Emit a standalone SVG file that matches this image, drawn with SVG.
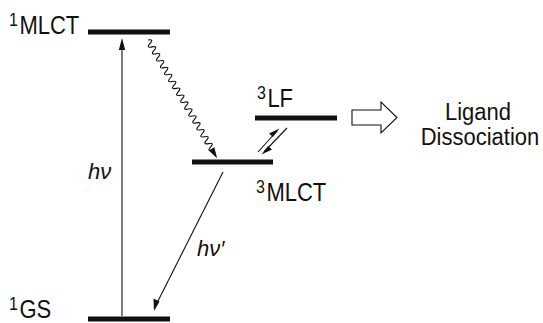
<svg xmlns="http://www.w3.org/2000/svg" width="543" height="323" viewBox="0 0 543 323">
<style>
.bar{stroke:#111;stroke-width:5;fill:none}
.ln{stroke:#111;stroke-width:1.1;fill:none}
.hd{fill:#111;stroke:none}
.lb{font-family:"Liberation Sans",Arial,sans-serif;font-size:22px;fill:#111}
.sp{font-size:16px}
.it{font-family:"Liberation Sans",Arial,sans-serif;font-size:22px;font-style:italic;fill:#111}
</style>
<rect width="543" height="323" fill="#fff"/>
<g id="connectors">
  <g id="hv-abs">
    <line class="ln" x1="122" y1="316" x2="122" y2="48"/>
    <polygon class="hd" points="122,38 125.2,50 118.8,50"/>
  </g>
  <g id="wavy" transform="translate(148,40) rotate(59.7)">
    <path class="ln" d="M0,0 q2,-6 4,0 t4,0 t4,0 t4,0 t4,0 t4,0 t4,0 t4,0 t4,0 t4,0 t4,0 t4,0 t4,0 t4,0 t4,0 t4,0 t4,0 t4,0 t4,0 t4,0 t4,0 t4,0 t4,0 t4,0 t4,0 t4,0 t4,0 t4,0 t4,0 t4,0 t4,0 t4,0 l6,0"/>
    <polygon class="hd" points="137,0 126,-3.2 126,3.2"/>
  </g>
  <g id="equil">
    <line class="ln" x1="258" y1="152" x2="277" y2="131"/>
    <polygon class="hd" points="279.5,128.5 269,133.5 273,137"/>
    <line class="ln" x1="287" y1="128" x2="264" y2="152"/>
    <polygon class="hd" points="261.5,154.5 272,149.5 268,146"/>
  </g>
  <g id="hv-em">
    <line class="ln" x1="223" y1="172" x2="157" y2="303"/>
    <polygon class="hd" points="154,311 153.5,298.5 159.5,301.5"/>
  </g>
  <g id="block-arrow">
    <polygon points="352,110 381,110 381,102 397,117.5 381,133 381,125 352,125" fill="#fff" stroke="#111" stroke-width="1.1"/>
  </g>
</g>
<g id="mlct1">
  <line class="bar" x1="88" y1="32" x2="170" y2="32"/>
  <text class="lb" transform="translate(9,34) scale(1,1.15)"><tspan class="sp" dy="-7">1</tspan><tspan dx="1.5" dy="7">MLCT</tspan></text>
</g>
<g id="gs1">
  <line class="bar" x1="88" y1="319" x2="170" y2="319"/>
  <text class="lb" transform="translate(9,318) scale(1,1.15)"><tspan class="sp" dy="-7">1</tspan><tspan dx="1.5" dy="7">GS</tspan></text>
</g>
<g id="mlct3">
  <line class="bar" x1="192" y1="162" x2="273" y2="162"/>
  <text class="lb" transform="translate(256,201) scale(1,1.15)"><tspan class="sp" dy="-7">3</tspan><tspan dx="1.5" dy="7">MLCT</tspan></text>
</g>
<g id="lf3">
  <line class="bar" x1="255" y1="118" x2="337" y2="118"/>
  <text class="lb" transform="translate(257,107) scale(1,1.15)"><tspan class="sp" dy="-7">3</tspan><tspan dx="1.5" dy="7">LF</tspan></text>
</g>
<g id="labels">
  <text class="it" x="88" y="179">hν</text>
  <text class="it" x="197" y="256">hν′</text>
</g>
<g id="ligand">
  <text class="lb" text-anchor="middle" transform="translate(478,120) scale(1,1.12)">Ligand</text>
  <text class="lb" text-anchor="middle" transform="translate(480,145) scale(1,1.12)">Dissociation</text>
</g>
</svg>
